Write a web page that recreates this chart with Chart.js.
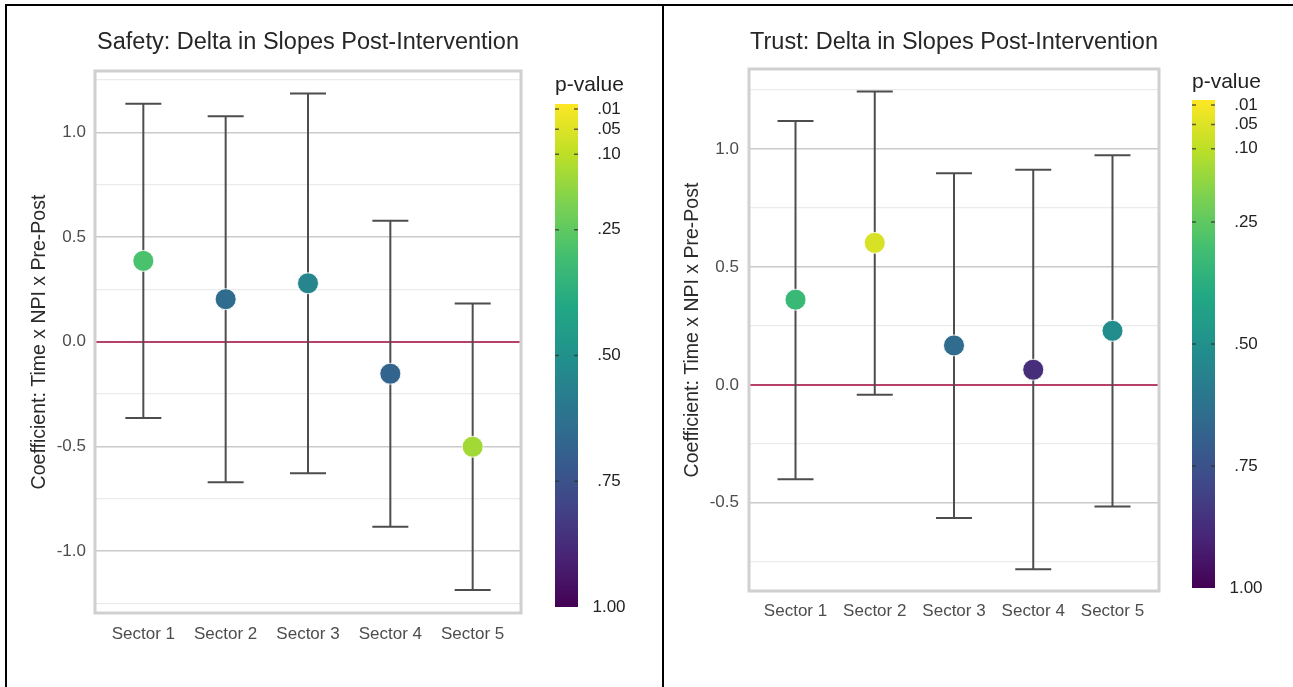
<!DOCTYPE html>
<html>
<head>
<meta charset="utf-8">
<script src="https://cdn.jsdelivr.net/npm/chart.js@4.4.1/dist/chart.umd.min.js"></script>
<style>
  html, body { margin: 0; padding: 0; background: #fff; }
  body { width: 1293px; height: 687px; position: relative; overflow: hidden; }
  .panel { position: absolute; top: 0; height: 687px; }
  #safetyWrap { left: 0; width: 662px; }
  #trustWrap { left: 664px; width: 629px; }
  .rule { position: absolute; background: #000; }
</style>
</head>
<body>
<div id="safetyWrap" class="panel"><canvas id="safetyChart"></canvas></div>
<div id="trustWrap" class="panel"><canvas id="trustChart"></canvas></div>
<div class="rule" style="left:5px;top:4px;width:1288px;height:2px"></div>
<div class="rule" style="left:5px;top:4px;width:2px;height:683px"></div>
<div class="rule" style="left:662px;top:4px;width:2px;height:683px"></div>
<script>
// Sectors on the x axis
const sectors = ['Sector 1', 'Sector 2', 'Sector 3', 'Sector 4', 'Sector 5'];

// Safety model: coefficient, 95% CI bounds and p-value per sector
const safetyEstimate = [0.386, 0.203, 0.279, -0.153, -0.502];
const safetyLower    = [-0.365, -0.672, -0.629, -0.884, -1.186];
const safetyUpper    = [1.136, 1.077, 1.185, 0.578, 0.183];
const safetyP        = [0.29, 0.65, 0.55, 0.68, 0.14];

// Trust model: coefficient, 95% CI bounds and p-value per sector
const trustEstimate = [0.361, 0.602, 0.167, 0.064, 0.229];
const trustLower    = [-0.400, -0.042, -0.564, -0.782, -0.516];
const trustUpper    = [1.119, 1.244, 0.897, 0.912, 0.973];
const trustP        = [0.33, 0.06, 0.65, 0.87, 0.52];

// Gridline positions (labelled every 0.5)
const safetyGrid = [-1.25, -1, -0.75, -0.5, -0.25, 0, 0.25, 0.5, 0.75, 1, 1.25];
const trustGrid  = [-0.75, -0.5, -0.25, 0, 0.25, 0.5, 0.75, 1, 1.25];

// Colour bar ticks
const pTicks      = [0.01, 0.05, 0.10, 0.25, 0.50, 0.75, 1.00];
const pTickLabels = ['.01', '.05', '.10', '.25', '.50', '.75', '1.00'];

const FONT = "'Liberation Sans', Arial, Helvetica, sans-serif";

// Viridis colour map, sampled every 0.1
const viridisStops = ['#440154', '#482475', '#414487', '#355f8d', '#2a788e', '#21918c',
                      '#22a884', '#44bf70', '#7ad151', '#bddf26', '#fde725'];
function hexToRgb(h) {
  const n = parseInt(h.slice(1), 16);
  return [(n >> 16) & 255, (n >> 8) & 255, n & 255];
}
function viridis(t) {
  t = Math.min(1, Math.max(0, t));
  const s = t * (viridisStops.length - 1);
  const i = Math.min(Math.floor(s), viridisStops.length - 2);
  const f = s - i;
  const a = hexToRgb(viridisStops[i]), b = hexToRgb(viridisStops[i + 1]);
  const c = a.map((v, k) => Math.round(v + (b[k] - v) * f));
  return `rgb(${c[0]},${c[1]},${c[2]})`;
}
// small p-values are bright yellow, p = 1 is dark purple
const pColor = p => viridis(1 - p);

// Frame, title and p-value colour bar drawn around the plot area
const panelDecor = {
  id: 'panelDecor',
  afterDraw(chart, args, o) {
    const { ctx, chartArea: a } = chart;
    ctx.save();
    // plot frame
    ctx.strokeStyle = '#d0d0d0';
    ctx.lineWidth = 3;
    ctx.strokeRect(a.left, a.top, a.right - a.left, a.bottom - a.top);

    // title
    ctx.fillStyle = '#262626';
    ctx.font = `${o.titleSize}px ${FONT}`;
    ctx.textAlign = 'center';
    ctx.textBaseline = 'middle';
    ctx.fillText(o.title, (a.left + a.right) / 2, o.titleY);

    // colour bar
    const x = a.right + o.barGap, w = o.barWidth, top = o.barTop, bottom = o.barBottom;
    const g = ctx.createLinearGradient(0, top, 0, bottom);
    for (let k = 0; k <= 40; k++) g.addColorStop(k / 40, pColor(k / 40));
    ctx.fillStyle = g;
    ctx.fillRect(x, top, w, bottom - top);
    const yOf = p => top + p * (bottom - top);

    ctx.strokeStyle = 'rgba(50,50,50,0.75)';
    ctx.lineWidth = 1.5;
    ctx.fillStyle = '#222';
    ctx.font = `17px ${FONT}`;
    ctx.textAlign = 'center';
    pTicks.forEach((p, i) => {
      const y = yOf(p);
      if (p < 1) {
        ctx.beginPath();
        ctx.moveTo(x, y); ctx.lineTo(x + 4, y);
        ctx.moveTo(x + w - 4, y); ctx.lineTo(x + w, y);
        ctx.stroke();
      }
      ctx.fillText(pTickLabels[i], x + w + 31, y);
    });

    ctx.textAlign = 'left';
    ctx.font = `21px ${FONT}`;
    ctx.fillStyle = '#222';
    ctx.fillText('p-value', x, top - o.pTitleGap);
    ctx.restore();
  }
};

function makePanel(id, d) {
  const n = sectors.length;
  const bars = sectors.map((s, i) => ({
    type: 'line',
    label: s,
    data: [{ x: i, y: d.lower[i] }, { x: i, y: d.upper[i] }],
    showLine: true,
    borderColor: '#4d4d4d',
    borderWidth: 2,
    pointStyle: 'line',
    pointRadius: 18,
    pointHoverRadius: 18,
    pointBorderWidth: 2,
    pointBorderColor: '#4d4d4d',
    order: 2
  }));
  const points = {
    type: 'scatter',
    label: 'estimate',
    data: d.estimate.map((v, i) => ({ x: i, y: v })),
    pointRadius: 10.5,
    pointHoverRadius: 10.5,
    pointBackgroundColor: d.p.map(pColor),
    pointBorderColor: 'rgba(255,255,255,0.85)',
    pointBorderWidth: 1,
    order: 0
  };
  const isMajor = v => Math.abs(v / 0.5 - Math.round(v / 0.5)) < 1e-9;

  return new Chart(document.getElementById(id), {
    type: 'scatter',
    data: { datasets: [points, ...bars] },
    options: {
      responsive: true,
      maintainAspectRatio: false,
      animation: false,
      events: [],
      layout: { padding: d.padding },
      plugins: {
        legend: { display: false },
        tooltip: { enabled: false },
        panelDecor: d.decor
      },
      scales: {
        x: {
          type: 'linear',
          min: -0.587,
          max: n - 1 + 0.587,
          afterBuildTicks: s => { s.ticks = sectors.map((_, i) => ({ value: i })); },
          afterFit: s => { s.height = d.xHeight; },
          grid: { display: false },
          border: { display: false },
          ticks: {
            autoSkip: false,
            maxRotation: 0,
            padding: d.xTickPad,
            color: '#4d4d4d',
            font: { family: FONT, size: 17 },
            callback: v => sectors[v]
          }
        },
        y: {
          type: 'linear',
          min: d.yMin,
          max: d.yMax,
          afterBuildTicks: s => { s.ticks = d.grid.map(v => ({ value: v })); },
          afterFit: s => { s.width = d.yWidth; },
          border: { display: false },
          grid: {
            drawTicks: false,
            color: c => c.tick.value === 0 ? '#b8416b' : (isMajor(c.tick.value) ? '#cacaca' : '#ebebeb'),
            lineWidth: c => c.tick.value === 0 ? 2 : (isMajor(c.tick.value) ? 1.5 : 1.2)
          },
          ticks: {
            padding: d.yTickPad,
            color: '#4d4d4d',
            font: { family: FONT, size: 17 },
            callback: v => isMajor(v) ? (Math.abs(v) < 1e-9 ? '0.0' : v.toFixed(1)) : ''
          },
          title: {
            display: true,
            text: 'Coefficient: Time x NPI x Pre-Post',
            color: '#2b2b2b',
            font: { family: FONT, size: 19.5 },
            padding: { top: d.yTitlePad, bottom: 0 }
          }
        }
      }
    },
    plugins: [panelDecor]
  });
}

makePanel('safetyChart', {
  estimate: safetyEstimate, lower: safetyLower, upper: safetyUpper, p: safetyP,
  grid: safetyGrid, yMin: -1.296, yMax: 1.293,
  padding: { left: 0, top: 71, right: 141, bottom: 0 },
  yWidth: 95, xHeight: 74, yTickPad: 9, xTickPad: 3, yTitlePad: 28,
  decor: { title: 'Safety: Delta in Slopes Post-Intervention', titleY: 43, titleSize: 23.5,
           barGap: 34, barWidth: 23, barTop: 104, barBottom: 607, pTitleGap: 19 }
});

makePanel('trustChart', {
  estimate: trustEstimate, lower: trustLower, upper: trustUpper, p: trustP,
  grid: trustGrid, yMin: -0.874, yMax: 1.339,
  padding: { left: 0, top: 69, right: 134, bottom: 0 },
  yWidth: 85, xHeight: 96, yTickPad: 10, xTickPad: 2, yTitlePad: 17,
  decor: { title: 'Trust: Delta in Slopes Post-Intervention', titleY: 43, titleSize: 23.5,
           barGap: 33, barWidth: 23, barTop: 100, barBottom: 588, pTitleGap: 18 }
});
</script>
</body>
</html>
